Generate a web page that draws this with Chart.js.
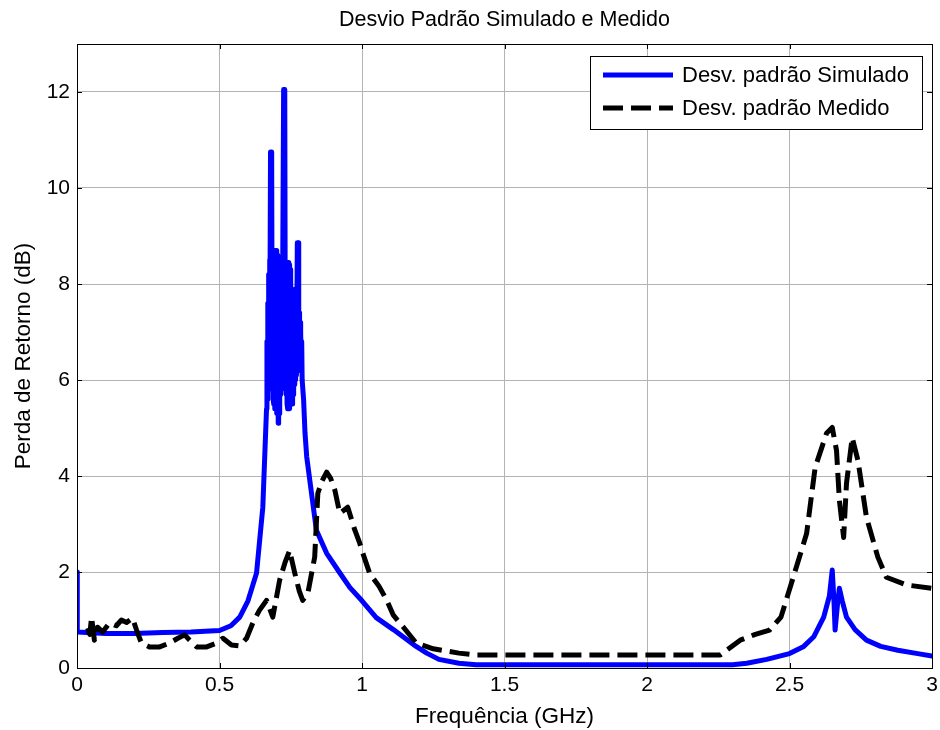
<!DOCTYPE html>
<html>
<head>
<meta charset="utf-8">
<script src="https://cdn.jsdelivr.net/npm/chart.js@4/dist/chart.umd.min.js"></script>
<style>
  html, body { margin: 0; padding: 0; background: #fff; }
  #wrap { width: 940px; height: 730px; }
</style>
</head>
<body>
<div id="wrap"><canvas id="lossChart" width="940" height="730"></canvas></div>
<script>
// frequency (GHz) and return loss (dB)
var simFreq = [0, 0.001, 0.1, 0.2, 0.3, 0.4, 0.5, 0.54, 0.571, 0.6, 0.63, 0.652,
    0.665, 0.6665, 0.668, 0.6695, 0.671, 0.6725, 0.674, 0.6755, 0.677, 0.679, 0.683,
    0.685, 0.6865, 0.688, 0.6895, 0.691, 0.6925, 0.694, 0.6955, 0.697, 0.6985, 0.7,
    0.7015, 0.703, 0.7045, 0.706, 0.7075, 0.709, 0.7105, 0.712, 0.7135, 0.715, 0.7165,
    0.718, 0.7195, 0.721, 0.7225, 0.725, 0.729, 0.731, 0.7325, 0.734, 0.7355, 0.737,
    0.7385, 0.74, 0.7415, 0.743, 0.7445, 0.746, 0.7475, 0.749, 0.7505, 0.752, 0.7535,
    0.755, 0.7565, 0.758, 0.7595, 0.761, 0.7625, 0.764, 0.7655, 0.767, 0.7685, 0.77,
    0.773, 0.776, 0.778, 0.7795, 0.781, 0.7825, 0.784, 0.7855, 0.787, 0.7885, 0.79,
    0.795, 0.8,
    0.806, 0.84, 0.876, 0.92, 0.957, 1.0, 1.05, 1.11, 1.19, 1.227, 1.27, 1.34, 1.4,
    2.3, 2.35, 2.42, 2.5, 2.55, 2.585, 2.62, 2.64, 2.65, 2.656, 2.66, 2.668, 2.675,
    2.685, 2.7, 2.73, 2.77, 2.82, 2.88, 2.95, 3.0];
var simLoss = [2.0, 0.75, 0.72, 0.72, 0.74, 0.75, 0.78, 0.88, 1.06, 1.4, 1.98, 3.35,
    5.4, 6.8, 5.6, 7.6, 5.8, 8.2, 6.0, 8.5, 6.4, 10.75, 10.75,
    6.2, 8.6, 5.6, 8.7, 5.5, 8.7, 5.4, 8.7, 5.6, 8.7, 5.3,
    8.6, 5.4, 8.6, 5.1, 8.4, 5.3, 8.2, 5.6, 7.8, 5.7, 7.6,
    5.8, 7.8, 6.0, 8.3, 12.05, 12.05, 6.4, 8.3, 5.7, 8.4, 5.5,
    8.45, 5.4, 8.45, 5.5, 8.4, 5.4, 8.3, 5.6, 8.0, 5.6, 7.9,
    5.5, 7.8, 5.7, 7.7, 5.8, 7.6, 5.9, 7.7, 6.0, 7.9, 6.1,
    8.86, 8.86, 6.3, 7.4, 6.2, 7.2, 6.3, 7.0, 6.2, 6.8, 6.0,
    5.6, 4.9,
    4.4, 2.87, 2.39, 2.0, 1.68, 1.4, 1.05, 0.8, 0.45, 0.31, 0.18, 0.1, 0.07,
    0.07, 0.1, 0.18, 0.3, 0.45, 0.65, 1.06, 1.5, 2.04, 1.4, 0.79, 1.3, 1.66,
    1.4, 1.06, 0.8, 0.58, 0.45, 0.37, 0.3, 0.25];

var medFreq = [0.037, 0.045, 0.051, 0.061, 0.072, 0.09, 0.114, 0.138, 0.156, 0.174, 0.195,
    0.209, 0.226, 0.254, 0.29, 0.325, 0.354, 0.378, 0.395, 0.42, 0.455, 0.49, 0.512,
    0.542, 0.57, 0.595, 0.617, 0.64, 0.665, 0.687, 0.711, 0.73, 0.746, 0.764, 0.78,
    0.792, 0.81, 0.834, 0.845, 0.86, 0.876, 0.89, 0.905, 0.922, 0.95, 0.975, 0.992,
    1.003, 1.027, 1.06, 1.087, 1.11, 1.144, 1.19, 1.25, 1.34, 1.4, 2.257, 2.327,
    2.38, 2.43, 2.47, 2.51, 2.56, 2.59, 2.63, 2.65, 2.665, 2.675, 2.69, 2.7, 2.72,
    2.74, 2.77, 2.81, 2.84, 2.91, 3.0];
var medLoss = [0.83, 0.7, 1.06, 0.58, 0.85, 0.75, 0.94, 0.88, 1.0, 0.95, 1.04,
    0.79, 0.52, 0.44, 0.44, 0.52, 0.62, 0.69, 0.58, 0.44, 0.44, 0.52, 0.62,
    0.48, 0.46, 0.62, 0.94, 1.2, 1.41, 1.06, 1.83, 2.2, 2.45, 1.98, 1.6,
    1.41, 1.56, 2.31, 3.64, 3.9, 4.08, 3.95, 3.7, 3.22, 3.35, 2.87, 2.6,
    2.39, 1.97, 1.7, 1.41, 1.1, 0.86, 0.52, 0.4, 0.31, 0.27, 0.27, 0.58,
    0.7, 0.79, 1.06, 1.83, 2.8, 4.18, 4.89, 5.01, 4.53, 3.49, 2.72, 3.85, 4.8,
    4.33, 3.14, 2.31, 1.89, 1.73, 1.66];

var xTicks = [0, 0.5, 1, 1.5, 2, 2.5, 3];
var yTicks = [0, 2, 4, 6, 8, 10, 12];

var seriesNames = ["Desv. padrão Simulado", "Desv. padrão Medido"];

function toPoints(xs, ys) {
    return xs.map(function (x, i) { return { x: x, y: ys[i] }; });
}

var FONT = "'Liberation Sans', Arial, sans-serif";

// box around the axes, inward tick marks, title and the legend box
var framePlugin = {
    id: "frame",
    afterDraw: function (chart) {
        var ctx = chart.ctx;
        var a = chart.chartArea;
        var xs = chart.scales.x, ys = chart.scales.y;
        ctx.save();
        ctx.strokeStyle = "#000";
        ctx.lineWidth = 1;
        ctx.beginPath();
        xTicks.forEach(function (v) {
            var px = Math.round(xs.getPixelForValue(v)) + 0.5;
            ctx.moveTo(px, a.bottom); ctx.lineTo(px, a.bottom - 5);
            ctx.moveTo(px, a.top); ctx.lineTo(px, a.top + 5);
        });
        yTicks.forEach(function (v) {
            var py = Math.round(ys.getPixelForValue(v)) + 0.5;
            ctx.moveTo(a.left, py); ctx.lineTo(a.left + 5, py);
            ctx.moveTo(a.right, py); ctx.lineTo(a.right - 5, py);
        });
        ctx.stroke();
        ctx.strokeRect(Math.round(a.left) + 0.5, Math.round(a.top) + 0.5,
            Math.round(a.right - a.left), Math.round(a.bottom - a.top));

        // title
        ctx.fillStyle = "#000";
        ctx.font = "21.5px " + FONT;
        ctx.textAlign = "center";
        ctx.textBaseline = "middle";
        ctx.fillText("Desvio Padrão Simulado e Medido", (a.left + a.right) / 2, 20);

        // legend
        var bx = 590.5, by = 56.5, bw = 332, bh = 73;
        ctx.fillStyle = "#fff";
        ctx.fillRect(bx, by, bw, bh);
        ctx.strokeRect(bx, by, bw, bh);
        var ds = chart.data.datasets;
        var rows = [75, 108];
        ctx.textAlign = "left";
        ctx.font = "22px " + FONT;
        for (var i = 0; i < ds.length; i++) {
            ctx.beginPath();
            ctx.lineWidth = 5;
            ctx.strokeStyle = ds[i].borderColor;
            ctx.lineCap = "butt";
            ctx.setLineDash(ds[i].borderDash || []);
            ctx.moveTo(603, rows[i]);
            ctx.lineTo(673, rows[i]);
            ctx.stroke();
            ctx.setLineDash([]);
            ctx.fillStyle = "#000";
            ctx.fillText(ds[i].label, 682, rows[i] + 1);
        }
        ctx.restore();
    }
};

var ctx = document.getElementById("lossChart").getContext("2d");
var lossChart = new Chart(ctx, {
    type: "line",
    data: {
        datasets: [
            {
                label: seriesNames[0],
                data: toPoints(simFreq, simLoss),
                borderColor: "#0000ff",
                borderWidth: 5,
                borderJoinStyle: "round",
                borderCapStyle: "round",
                pointRadius: 0,
                tension: 0,
                order: 1,
            },
            {
                label: seriesNames[1],
                data: toPoints(medFreq, medLoss),
                borderColor: "#000000",
                borderWidth: 5,
                borderDash: [20, 8],
                borderJoinStyle: "round",
                pointRadius: 0,
                tension: 0,
                order: 0,
            },
        ],
    },
    options: {
        responsive: false,
        animation: false,
        layout: { padding: { left: 0, right: 8, top: 44, bottom: 0 } },
        plugins: {
            legend: { display: false },
            tooltip: { enabled: false },
        },
        scales: {
            x: {
                type: "linear",
                min: 0,
                max: 3,
                afterFit: function (s) {
                    s.height = 62;
                    s.paddingLeft = 0;
                    s.paddingRight = 0;
                },
                afterBuildTicks: function (s) {
                    s.ticks = xTicks.map(function (v) { return { value: v }; });
                },
                ticks: {
                    color: "#000",
                    font: { family: FONT, size: 21 },
                    padding: 5,
                    maxRotation: 0,
                    callback: function (v) { return String(v); },
                },
                grid: { color: "#b4b4b4", drawTicks: false },
                border: { color: "#000" },
                title: {
                    display: true,
                    text: "Frequência (GHz)",
                    color: "#000",
                    font: { family: FONT, size: 22.5 },
                    padding: { top: 0, bottom: 0 },
                },
            },
            y: {
                min: 0,
                max: 13,
                afterFit: function (s) {
                    s.width = 77;
                    s.paddingTop = 0;
                    s.paddingBottom = 0;
                },
                afterBuildTicks: function (s) {
                    s.ticks = yTicks.map(function (v) { return { value: v }; });
                },
                ticks: {
                    color: "#000",
                    font: { family: FONT, size: 21 },
                    padding: 7,
                },
                grid: { color: "#b4b4b4", drawTicks: false },
                border: { color: "#000" },
                title: {
                    display: true,
                    text: "Perda de Retorno (dB)",
                    color: "#000",
                    font: { family: FONT, size: 22.5 },
                    padding: { top: 10, bottom: 0 },
                },
            },
        },
    },
    plugins: [framePlugin],
});
</script>
</body>
</html>
